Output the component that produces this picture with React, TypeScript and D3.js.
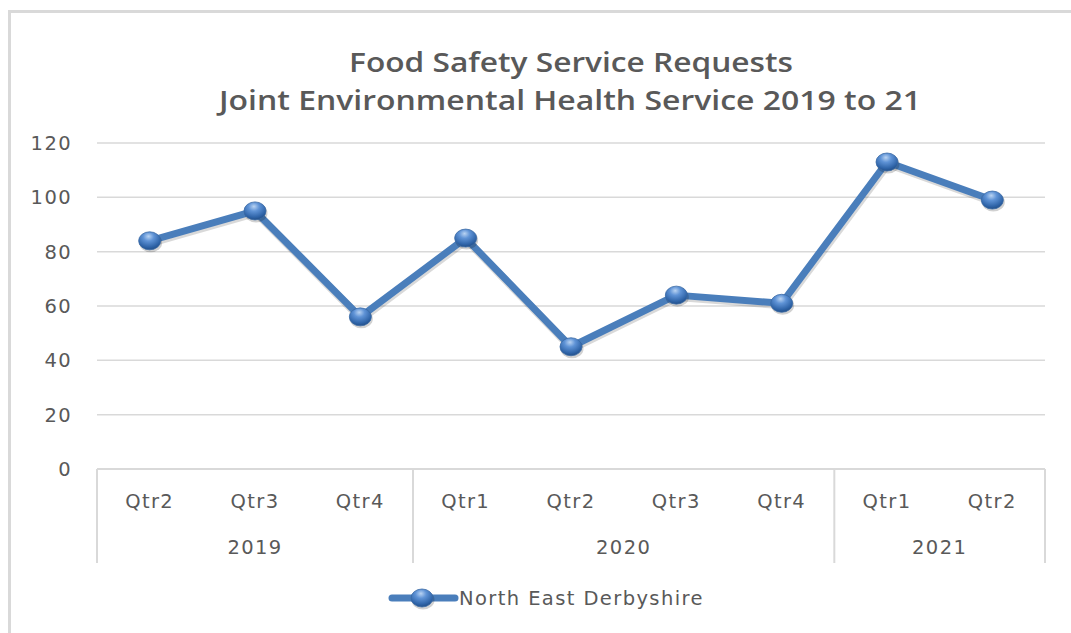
import React from "react";
import * as d3 from "d3";

const quarters = ["Qtr2", "Qtr3", "Qtr4", "Qtr1", "Qtr2", "Qtr3", "Qtr4", "Qtr1", "Qtr2"];
const years = ["2019", "2020", "2021"];
const yearOfQuarter = [0, 0, 0, 1, 1, 1, 1, 2, 2];
const values = [84, 95, 56, 85, 45, 64, 61, 113, 99];
const yTicks = [0, 20, 40, 60, 80, 100, 120];
const seriesName = "North East Derbyshire";
const titleLines = ["Food Safety Service Requests", "Joint Environmental  Health Service 2019 to 21"];

const W = 1071, H = 633;
const left = 97, right = 1045, top = 143, bottom = 469;
const font = "'Open Sans', 'Noto Sans', sans-serif";
const labelFont = "'DejaVu Sans', 'Open Sans', sans-serif";
const textColor = "#595959";
const gridColor = "#d9d9d9";
const lineColor = "#4a7ebb";
const ls = 1.4;

export default function App() {
  const idx = quarters.map((_, i) => i);
  const x = d3.scaleBand<number>().domain(idx).range([left, right]).padding(0);
  const y = d3.scaleLinear().domain([0, 120]).range([bottom, top]);
  const cx = (i: number) => (x(i) as number) + x.bandwidth() / 2;
  const line = d3.line<number>().x((_, i) => cx(i)).y((v) => y(v));

  const groups = years.map((yr, g) => {
    const members = idx.filter((i) => yearOfQuarter[i] === g);
    const x0 = x(members[0]) as number;
    const x1 = (x(members[members.length - 1]) as number) + x.bandwidth();
    return { yr, x0, x1 };
  });
  const boundaries = [groups[0].x0, ...groups.map((g) => g.x1)];

  const Marker = ({ px, py }: { px: number; py: number }) => (
    <g>
      <ellipse cx={px + 1} cy={py + 2} rx={11.5} ry={9.5} fill="rgba(0,0,0,0.18)" />
      <ellipse cx={px} cy={py} rx={11} ry={9} fill="url(#sphere)" stroke="#3a6aa5" strokeWidth={0.8} />
    </g>
  );

  return (
    <svg width={W} height={H} style={{ position: "absolute", left: 0, top: 0, background: "#fff" }}>
      <defs>
        <radialGradient id="sphere" cx="45%" cy="30%" r="70%" fx="45%" fy="25%">
          <stop offset="0%" stopColor="#b9d3f2" />
          <stop offset="35%" stopColor="#5f93d6" />
          <stop offset="80%" stopColor="#2f64a8" />
          <stop offset="100%" stopColor="#234f88" />
        </radialGradient>
      </defs>
      <rect x={0} y={0} width={W} height={H} fill="#fff" />
      <line x1={9.5} y1={11} x2={9.5} y2={H} stroke={gridColor} strokeWidth={3} />
      <line x1={8} y1={11.5} x2={W} y2={11.5} stroke={gridColor} strokeWidth={3} />

      <text x={571} y={72} textAnchor="middle" fontFamily={font} fontWeight={600} fontSize={27} fill={textColor}
        textLength={444} lengthAdjust="spacingAndGlyphs">{titleLines[0]}</text>
      <text x={570} y={110} textAnchor="middle" fontFamily={font} fontWeight={600} fontSize={27} fill={textColor}
        textLength={702} lengthAdjust="spacingAndGlyphs">{titleLines[1]}</text>

      {yTicks.map((t) => (
        <g key={t}>
          {t > 0 && <line x1={left} x2={right} y1={y(t)} y2={y(t)} stroke={gridColor} strokeWidth={1.5} />}
          <text x={72} y={y(t) + 7} textAnchor="end" fontFamily={labelFont} fontSize={19.5} letterSpacing={ls} fill={textColor}>{t}</text>
        </g>
      ))}

      <line x1={left} x2={right} y1={bottom} y2={bottom} stroke={gridColor} strokeWidth={2} />
      {boundaries.map((bx, i) => (
        <line key={i} x1={bx} x2={bx} y1={bottom} y2={563} stroke={gridColor} strokeWidth={2} />
      ))}
      {quarters.map((q, i) => (
        <text key={i} x={cx(i)} y={508} textAnchor="middle" fontFamily={labelFont} fontSize={19.5} letterSpacing={ls} fill={textColor}>{q}</text>
      ))}
      {groups.map((g) => (
        <text key={g.yr} x={(g.x0 + g.x1) / 2} y={554} textAnchor="middle" fontFamily={labelFont} fontSize={19.5} letterSpacing={ls} fill={textColor}>{g.yr}</text>
      ))}

      <path d={line(values) as string} fill="none" stroke="rgba(0,0,0,0.15)" strokeWidth={8} transform="translate(1,2)" strokeLinejoin="round" />
      <path d={line(values) as string} fill="none" stroke={lineColor} strokeWidth={7} strokeLinejoin="round" strokeLinecap="round" />
      {values.map((v, i) => (
        <Marker key={i} px={cx(i)} py={y(v)} />
      ))}

      <line x1={392} x2={455} y1={598} y2={598} stroke={lineColor} strokeWidth={7} strokeLinecap="round" />
      <Marker px={422} py={598} />
      <text x={459} y={605} fontFamily={labelFont} fontSize={19.5} letterSpacing={ls} fill={textColor}>{seriesName}</text>
    </svg>
  );
}
